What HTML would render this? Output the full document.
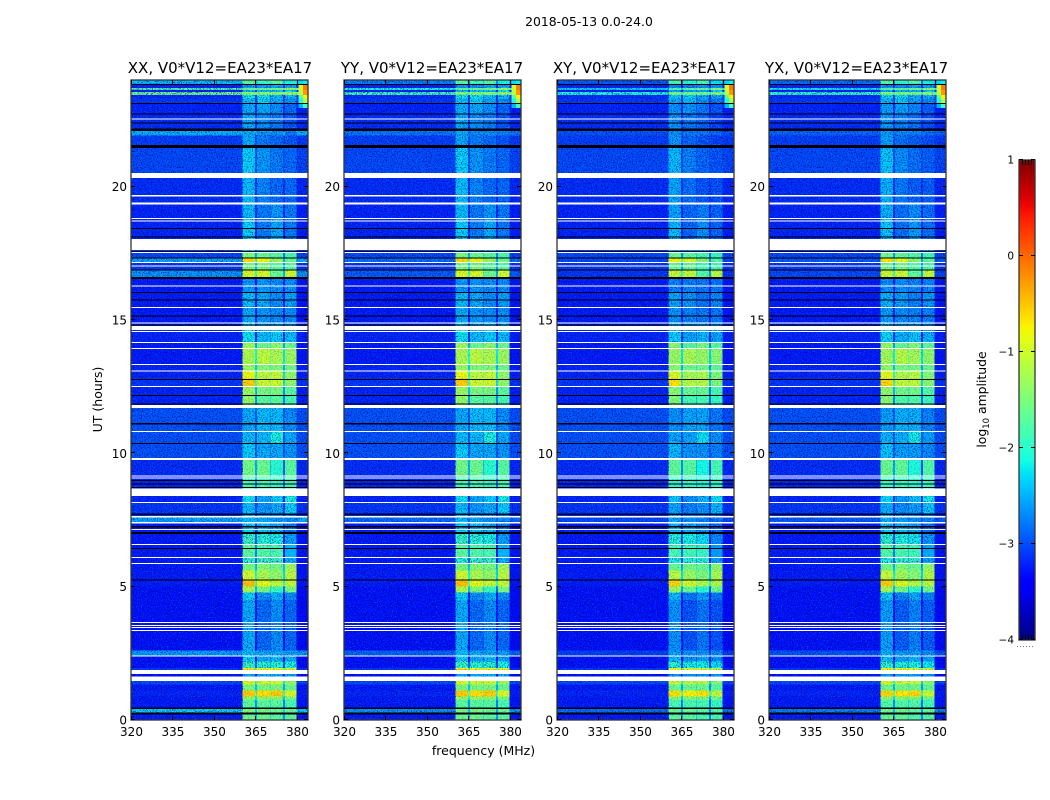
<!DOCTYPE html>
<html lang="en">
<head>
<meta charset="utf-8">
<title>2018-05-13 0.0-24.0</title>
<style>
html,body{margin:0;padding:0;background:#fff;width:1050px;height:800px;overflow:hidden}
svg{display:block;position:absolute;left:0;top:0}
text{font-family:"DejaVu Sans","Liberation Sans",sans-serif;fill:#000}
</style>
</head>
<body>
<svg id="figure" width="1050" height="800" viewBox="0 0 1050 800" xmlns="http://www.w3.org/2000/svg">
  <defs>
    <filter id="speck-dark" x="0" y="0" width="100%" height="100%" color-interpolation-filters="sRGB">
      <feTurbulence type="fractalNoise" baseFrequency="0.8" numOctaves="2" seed="4"/>
      <feColorMatrix type="matrix" values="0 0 0 0 0  0 0 0 0 0  0 0 0 0 0.55  7 0 0 0 -3.6"/>
    </filter>
    <filter id="speck-light" x="0" y="0" width="100%" height="100%" color-interpolation-filters="sRGB">
      <feTurbulence type="fractalNoise" baseFrequency="0.8" numOctaves="2" seed="11"/>
      <feColorMatrix type="matrix" values="0 0 0 0 0  0 0 0 0 0.5  0 0 0 0 1  0 7 0 0 -4.1"/>
    </filter>
    <filter id="speck-cyan" x="0" y="0" width="100%" height="100%" color-interpolation-filters="sRGB">
      <feTurbulence type="fractalNoise" baseFrequency="0.7" numOctaves="2" seed="23"/>
      <feColorMatrix type="matrix" values="0 0 0 0 0  0 0 0 0 0.95  0 0 0 0 1  0 7 0 0 -4"/>
    </filter>
    <linearGradient id="jet-gradient" x1="0" y1="1" x2="0" y2="0"></linearGradient>
  </defs>
  <text x="589" y="26" font-size="12.4" text-anchor="middle">2018-05-13 0.0-24.0</text>
  <text x="483.500" y="755" font-size="12.5" text-anchor="middle">frequency (MHz)</text>
  <text transform="translate(102,399.500) rotate(-90)" font-size="12.5" text-anchor="middle">UT (hours)</text>
  <text transform="translate(986,399.500) rotate(-90)" font-size="12.4" text-anchor="middle">log<tspan font-size="8.500" dy="3">10</tspan><tspan dy="-3"> amplitude</tspan></text>
  <g id="panels"></g>
  <g id="colorbar"></g>
</svg>
<script>
// Polarisation panels
const panelTitles = ["XX, V0*V12=EA23*EA17", "YY, V0*V12=EA23*EA17", "XY, V0*V12=EA23*EA17", "YX, V0*V12=EA23*EA17"];
const bandGain = [0, 0, -0.12, -0.06];
const brightRowGain = [0, -0.3, -0.5, -0.4];

// Axis tick labels
const freqTicks = [320, 335, 350, 365, 380];
const timeTicks = [0, 5, 10, 15, 20];
const colorTicks = [-4, -3, -2, -1, 0, 1];

// Frequency channel edges (MHz): background, band A, notch, band B, notch, band C, notch, band D, background
const channelEdges = [320, 360.4, 364.8, 365.5, 370.2, 370.5, 374.9, 375.6, 379.9, 384];

// Time rows: start hour and log10 amplitude per frequency region
const rowStart = [0,0.28,0.41,0.75,0.88,1.10,1.34,1.46,1.63,1.88,1.95,2.20,2.42,2.60,4.50,4.78,5.00,5.25,5.60,5.85,6.08,6.56,6.98,7.37,7.60,7.74,8.18,8.68,9.13,9.83,10.35,10.84,11.81,12.19,12.50,12.80,13.11,13.35,13.95,14.18,14.87,15.49,16.05,16.54,16.89,17.18,17.31,17.55,18.04,18.83,19.41,20.51,21.56,21.92,22.18,22.74,23.14,23.30,23.44,23.55,23.62,23.70,23.85];
const background = [-3.25,-2.3,-3.25,-3.25,-3.2,-3.25,-3.0,-3.2,-3.3,-3.1,-3.3,-3.3,-2.55,-3.3,-3.3,-3.3,-3.25,-3.25,-3.25,-3.25,-3.25,-3.25,-3.25,-2.5,-3.2,-3.1,-3.2,-3.2,-3.15,-2.95,-2.95,-2.95,-3.2,-3.2,-3.1,-3.2,-3.2,-3.25,-3.25,-3.2,-3.25,-3.25,-3.25,-2.6,-3.1,-2.5,-3.0,-3.1,-3.2,-3.2,-3.15,-3.0,-3.05,-2.45,-3.15,-3.2,-3.1,-3.15,-1.55,-3.2,-1.8,-3.2,-2.4];
const bandA = [-1.6,-1.5,-1.7,-1.35,-0.55,-1.5,-0.9,-1.6,-2.5,-0.7,-1.9,-2.3,-2.4,-2.5,-2.3,-1.2,-0.5,-1.0,-1.5,-2.0,-1.7,-1.9,-2.3,-2.4,-2.4,-2.4,-2.2,-1.8,-1.55,-2.3,-2.4,-2.5,-1.35,-1.3,-0.55,-0.8,-1.3,-1.2,-1.3,-2.2,-2.5,-2.4,-2.6,-0.95,-1.5,-0.65,-1.5,-2.4,-2.3,-2.4,-2.4,-2.3,-2.5,-2.5,-2.5,-2.5,-2.4,-2.2,-1.4,-2.4,-1.6,-2.6,-1.7];
const bandB = [-1.6,-1.5,-1.7,-1.35,-0.65,-1.5,-1.0,-1.7,-2.5,-0.8,-2.0,-2.5,-2.5,-2.85,-2.65,-1.5,-0.85,-1.2,-1.4,-1.9,-1.75,-2.0,-2.4,-2.5,-2.6,-2.6,-2.5,-1.8,-1.6,-2.5,-2.4,-2.4,-1.7,-1.5,-1.0,-1.1,-1.45,-1.1,-1.6,-2.4,-2.6,-2.5,-2.6,-0.95,-1.5,-0.8,-1.6,-2.6,-2.75,-2.75,-2.7,-2.6,-2.75,-2.65,-2.65,-2.5,-2.3,-2.2,-1.4,-2.4,-1.6,-2.6,-1.9];
const bandC = [-1.7,-1.6,-1.7,-1.4,-0.55,-1.5,-1.0,-1.7,-2.5,-0.8,-2.0,-2.4,-2.5,-2.65,-2.45,-1.9,-1.05,-1.35,-1.5,-1.9,-1.8,-2.1,-2.5,-2.6,-2.6,-2.5,-2.3,-1.9,-2.0,-2.5,-2.1,-2.4,-1.7,-1.5,-1.0,-1.05,-1.45,-1.2,-1.4,-2.3,-2.65,-2.65,-2.65,-1.6,-1.7,-1.3,-1.7,-2.5,-2.5,-2.6,-2.85,-2.75,-2.85,-2.65,-2.75,-2.65,-2.5,-2.4,-1.4,-2.4,-1.5,-2.5,-1.7];
const bandD = [-1.7,-1.6,-1.8,-1.5,-0.95,-1.6,-1.3,-1.8,-2.5,-0.9,-2.1,-2.5,-2.55,-2.85,-2.65,-1.5,-1.05,-1.1,-1.25,-2.45,-2.45,-2.55,-2.75,-2.65,-2.75,-2.3,-2.1,-1.8,-1.7,-2.6,-2.5,-2.65,-1.8,-1.7,-1.35,-1.35,-1.55,-1.3,-1.6,-2.4,-2.65,-2.55,-2.65,-1.0,-1.7,-1.6,-1.8,-2.6,-2.75,-2.75,-2.85,-2.85,-2.95,-2.75,-2.95,-2.85,-2.65,-2.4,-1.3,-2.2,-1.3,-2.5,-2.1];

// Interference corner at the top-right of each panel
const cornerStart = [22.95, 23.14, 23.30, 23.44, 23.62, 23.85];
const cornerShoulder = [-2.5, -2.1, -1.7, -1.1, -0.95, -2.3];
const cornerEdge = [-1.9, -1.2, -0.75, -0.25, -0.1, -2.2];
const cornerFreq = [380.6, 382.2, 384];

// Masked (white) and near-zero (black) time intervals: start and end hours
const whiteStart = [1.46,1.73,2.38,3.34,3.45,3.53,3.64,5.85,6.08,6.56,7.13,7.37,7.59,8.14,8.40,9.06,9.13,9.75,10.80,11.70,12.49,13.07,13.31,13.91,14.14,14.55,14.63,14.87,15.45,16.26,17.01,17.14,17.51,17.63,18.69,18.79,19.33,19.64,20.33,22.52];
const whiteEnd = [1.63,1.88,2.42,3.38,3.49,3.56,3.68,5.89,6.11,6.60,7.16,7.43,7.65,8.18,8.68,9.09,9.17,9.83,10.84,11.81,12.53,13.11,13.35,13.95,14.18,14.59,14.78,14.91,15.49,16.29,17.04,17.18,17.55,18.04,18.73,18.83,19.41,19.69,20.51,22.55];
const blackStart = [0.21,0.41,5.23,6.41,6.98,7.22,7.69,8.70,8.83,8.96,10.35,11.08,11.83,12.15,12.75,14.79,15.13,15.73,16.01,16.54,16.86,17.31,17.55,18.09,18.41,21.45,22.09,22.37,22.71,23.10,23.81];
const blackEnd = [0.28,0.47,5.27,6.45,7.05,7.28,7.74,8.74,8.87,9.00,10.39,11.14,11.87,12.19,12.79,14.83,15.17,15.77,16.05,16.61,16.89,17.34,17.59,18.13,18.45,21.56,22.18,22.41,22.74,23.14,23.85];

// Axis geometry
const panelLefts = [131, 344, 557, 769];
const titleCenters = [220, 432, 644.5, 856.5];
const panelWidth = 177;
const plotTop = 80;
const plotBottom = 720;
const quietThreshold = -1.85;
const SVG_NS = "http://www.w3.org/2000/svg";

function timeToY(h) { return plotBottom - h * (plotBottom - plotTop) / 24; }
function freqToX(f, left) { return left + (f - 320) * panelWidth / 64; }
function logToColorbarY(v) { return 640 - (v + 4) * 480 / 5; }

function jet(t) {
  t = Math.max(0, Math.min(1, t));
  const ramp = (x) => Math.round(255 * Math.max(0, Math.min(1, x)));
  const r = t < 0.35 ? 0 : t < 0.66 ? (t - 0.35) / 0.31 : t < 0.89 ? 1 : 1 - 0.5 * (t - 0.89) / 0.11;
  const g = t < 0.125 ? 0 : t < 0.375 ? (t - 0.125) / 0.25 : t < 0.64 ? 1 : t < 0.91 ? 1 - (t - 0.64) / 0.27 : 0;
  const b = t < 0.11 ? 0.5 + 0.5 * t / 0.11 : t < 0.34 ? 1 : t < 0.65 ? 1 - (t - 0.34) / 0.31 : 0;
  return "rgb(" + ramp(r) + "," + ramp(g) + "," + ramp(b) + ")";
}
function levelColor(v) { return jet((v + 4) / 5); }

function make(tag, attrs, parent) {
  const el = document.createElementNS(SVG_NS, tag);
  for (const k in attrs) el.setAttribute(k, attrs[k]);
  parent.appendChild(el);
  return el;
}

const panelsRoot = document.getElementById("panels");

panelTitles.forEach(function (title, p) {
  const left = panelLefts[p];
  const right = left + panelWidth;
  const g = make("g", {}, panelsRoot);
  
  

  // heatmap cells
  const cells = make("g", { "shape-rendering": "crispEdges" }, g);
  
  
  rowStart.forEach(function (start, r) {
    const end = r + 1 < rowStart.length ? rowStart[r + 1] : 24;
    const bg = background[r] > -2.9 ? background[r] + brightRowGain[p] : background[r];
    const a = bandA[r] + bandGain[p];
    const b = bandB[r] + bandGain[p];
    const c = bandC[r] + bandGain[p];
    const d = bandD[r] + bandGain[p];
    const regionLevels = [bg, a, Math.max(bg, Math.min(a, b) - 0.9), b, Math.max(bg, Math.min(b, c) - 0.7), c, Math.max(bg, Math.min(c, d) - 0.9), d, bg];
    regionLevels.forEach(function (v, i) {
      const x0 = freqToX(channelEdges[i], left);
      const x1 = freqToX(channelEdges[i + 1], left);
      const y0 = timeToY(end);
      const y1 = timeToY(start);
      const cell = make("rect", { x: x0, y: y0, width: x1 - x0, height: y1 - y0, fill: levelColor(v) }, cells);
      
      
    });
  });

  // interference corner
  cornerStart.forEach(function (start, i) {
    const end = i + 1 < cornerStart.length ? cornerStart[i + 1] : 24;
    const y0 = timeToY(end);
    const y1 = timeToY(start);
    const sx0 = freqToX(cornerFreq[0], left);
    const sx1 = freqToX(cornerFreq[1], left);
    const ex1 = freqToX(cornerFreq[2], left);
    const shoulder = make("rect", { x: sx0, y: y0, width: sx1 - sx0, height: y1 - y0, fill: levelColor(cornerShoulder[i]) }, cells);
    
    
    const edge = make("rect", { x: sx1, y: y0, width: ex1 - sx1, height: y1 - y0, fill: levelColor(cornerEdge[i]) }, cells);
    
    
  });

  // fine-grain speckle texture over the cells (decorative only): strong on the
  // quiet background, weaker over the smooth bright bands
  const bandX0 = freqToX(channelEdges[1], left);
  const bandX1 = freqToX(channelEdges[8], left);
  const plotH = plotBottom - plotTop;
  const darkBg = make("rect", { x: left, y: plotTop, width: bandX0 - left, height: plotH, filter: "url(#speck-dark)", opacity: 0.7 }, g);
  
  
  const lightBg = make("rect", { x: left, y: plotTop, width: bandX0 - left, height: plotH, filter: "url(#speck-light)", opacity: 0.55 }, g);
  
  
  const darkBand = make("rect", { x: bandX0, y: plotTop, width: bandX1 - bandX0, height: plotH, filter: "url(#speck-dark)", opacity: 0.22 }, g);
  
  
  const tailTop = timeToY(cornerStart[0]);
  const darkTail = make("rect", { x: bandX1, y: tailTop, width: right - bandX1, height: plotBottom - tailTop, filter: "url(#speck-dark)", opacity: 0.7 }, g);
  
  

  // extra mottling over the bands on quiet rows
  rowStart.forEach(function (start, r) {
    const end = r + 1 < rowStart.length ? rowStart[r + 1] : 24;
    if (Math.max(bandA[r], bandB[r], bandC[r], bandD[r]) < quietThreshold) {
      const y0 = timeToY(end);
      const h = timeToY(start) - y0;
      const quietDark = make("rect", { x: bandX0, y: y0, width: bandX1 - bandX0, height: h, filter: "url(#speck-dark)", opacity: 0.5 }, g);
      
      
      const quietCyan = make("rect", { x: bandX0, y: y0, width: bandX1 - bandX0, height: h, filter: "url(#speck-cyan)", opacity: 0.4 }, g);
      
      
    }
  });

  // black near-zero rows
  blackStart.forEach(function (start, i) {
    const y0 = timeToY(blackEnd[i]);
    const y1 = timeToY(start);
    const line = make("rect", { x: left, y: y0, width: panelWidth, height: y1 - y0, fill: "#000008", "shape-rendering": "crispEdges" }, g);
    
    
  });

  // white masked rows
  whiteStart.forEach(function (start, i) {
    const y0 = timeToY(whiteEnd[i]);
    const y1 = timeToY(start);
    const gap = make("rect", { x: left, y: y0, width: panelWidth, height: y1 - y0, fill: "#fff", "shape-rendering": "crispEdges" }, g);
    
    
  });

  // frame
  const frame = make("rect", { x: left, y: plotTop, width: panelWidth, height: plotBottom - plotTop, fill: "none", stroke: "#333", "stroke-width": 1.3 }, g);
  
  

  // title
  const titleEl = make("text", { x: titleCenters[p], y: 73, "font-size": 15, "text-anchor": "middle" }, g);
  titleEl.textContent = title;
  
  

  // x ticks
  freqTicks.forEach(function (f) {
    const x = Math.round(freqToX(f, left)) + 0.5;
    const bottomTick = make("line", { x1: x, x2: x, y1: plotBottom, y2: plotBottom - 4, stroke: "#000" }, g);
    
    
    const topTick = make("line", { x1: x, x2: x, y1: plotTop, y2: plotTop + 4, stroke: "#000" }, g);
    
    
    const label = make("text", { x: freqToX(f, left) + 0.5, y: 736, "font-size": 12, "text-anchor": "middle" }, g);
    label.textContent = f;
    
    
  });

  // y ticks
  timeTicks.forEach(function (h) {
    const y = Math.round(timeToY(h)) - 0.5;
    const leftTick = make("line", { x1: left, x2: left + 4, y1: y, y2: y, stroke: "#000" }, g);
    
    
    const rightTick = make("line", { x1: right, x2: right - 4, y1: y, y2: y, stroke: "#000" }, g);
    
    
    const label = make("text", { x: left - 4, y: timeToY(h) + 4.5, "font-size": 12, "text-anchor": "end" }, g);
    label.textContent = h;
    
    
  });
});

// Colorbar
const gradient = document.getElementById("jet-gradient");
for (let i = 0; i <= 40; i++) {
  make("stop", { offset: (i / 40), "stop-color": jet(i / 40) }, gradient);
}
const cbRoot = document.getElementById("colorbar");
const cbLeft = 1019;
const cbWidth = 16;
const cbFill = make("rect", { x: cbLeft, y: logToColorbarY(1), width: cbWidth, height: logToColorbarY(-4) - logToColorbarY(1), fill: "url(#jet-gradient)" }, cbRoot);


const cbFrame = make("rect", { x: cbLeft, y: logToColorbarY(1), width: cbWidth, height: logToColorbarY(-4) - logToColorbarY(1), fill: "none", stroke: "#333", "stroke-width": 1.3 }, cbRoot);


colorTicks.forEach(function (v) {
  const y = Math.round(logToColorbarY(v)) - 0.5;
  const tickL = make("line", { x1: cbLeft, x2: cbLeft + 4, y1: y, y2: y, stroke: "#000" }, cbRoot);
  
  
  const tickR = make("line", { x1: cbLeft + cbWidth, x2: cbLeft + cbWidth - 4, y1: y, y2: y, stroke: "#000" }, cbRoot);
  
  
  const label = make("text", { x: 1014, y: logToColorbarY(v) + 3.5, "font-size": 10.5, "text-anchor": "end" }, cbRoot);
  label.textContent = v < 0 ? "\u2212" + Math.abs(v) : String(v);
  
  
});
const cbMinorTop = make("path", { d: "M1022.500 160v5M1025.500 160v5M1028.500 160v5M1031.500 160v5", stroke: "#000", fill: "none" }, cbRoot);


const cbMinorBottom = make("path", { d: "M1022.500 640v-5M1025.500 640v-5M1028.500 640v-5M1031.500 640v-5", stroke: "#000", fill: "none" }, cbRoot);


const cbDots = make("line", { x1: 1017, x2: 1035, y1: 646.5, y2: 646.5, stroke: "#777", "stroke-dasharray": "1 2" }, cbRoot);


</script>
</body>
</html>
